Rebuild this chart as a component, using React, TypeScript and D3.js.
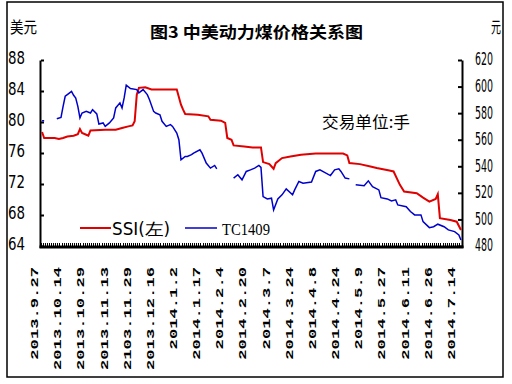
import React from "react";
import * as d3 from "d3";

const xLabels = ["2013.9.27","2013.10.14","2013.10.29","2013.11.13","2103.11.29","2013.12.16","2014.1.2","2014.1.17","2014.2.4","2014.2.20","2014.3.7","2014.3.24","2014.4.8","2014.4.24","2014.5.9","2014.5.27","2014.6.11","2014.6.26","2014.7.14"];
const labelEvery = 11;
const categoryCount = 200;

const leftTicks = [64, 68, 72, 76, 80, 84, 88];
const rightTicks = [480, 500, 520, 540, 560, 580, 600, 620];

const ssiDays = [0,1,6,8,10,12,15,17,18,19,21,22,23,30,35,38,41,43,44,45,46,49,52,64,66,67,68,74,79,80,85,87,88,90,91,96,100,104,105,108,110,111,114,118,123,130,143,145,146,151,156,159,165,167,170,172,178,181,184,187,188,189,194,197,199];
const ssiVals = [78.77,78.0,78.0,77.87,78.0,78.2,78.3,78.5,79.16,78.64,78.42,78.3,78.98,79.07,79.07,79.29,79.5,79.63,80.15,83.6,84.47,84.54,84.25,84.25,82.3,81.66,81.1,81.0,80.8,80.36,80.24,79.94,78.0,77.78,77.04,76.9,76.78,76.78,74.89,74.63,74.03,74.76,75.41,75.62,75.84,76.0,76.0,75.75,74.76,74.63,74.32,74.12,73.8,73.68,71.96,71.09,70.88,70.31,69.8,70.14,70.75,67.65,67.43,67.2,66.13];

const tcDays = [0,1,4,7,9,10,11,12,14,15,16,17,18,19,21,23,24,26,27,29,30,32,34,35,37,38,39,40,42,45,46,48,50,51,53,54,56,57,59,61,62,64,65,66,68,69,71,72,75,76,78,80,82,83,87,91,93,95,97,99,101,103,104,105,107,109,110,112,114,116,119,120,122,124,128,130,132,134,137,139,141,142,144,146,148,149,153,155,157,160,161,164,166,168,169,173,175,177,180,181,184,186,188,191,193,196,198,199];
const tcVals: (number | null)[] = [574.7,574.7,null,576.2,577.2,585.5,593.1,594.3,596.8,593.8,591.8,585.5,576.8,580.5,581.7,580.5,583,579.8,572.2,573,570.4,573,576.8,584.3,588.1,584.3,591.8,601.4,598.9,598.1,595.6,598.1,594.3,590.6,581.7,580.5,579.2,574.2,570.4,571.7,570.4,565.4,560.4,545.3,547.8,547.8,549.1,550.3,552.8,550.3,542.8,539,541,538.5,null,531.5,534,530.2,536.5,537.7,539,541,539.5,517.6,515.8,516.4,507.5,515.8,518.9,523.4,518.9,522.6,528.9,527.7,528.5,536.5,537.7,536,533.4,537.7,538.5,536.5,531.5,530.9,null,526.4,525.7,529.4,525.1,522.6,516.8,515.8,514.3,515.1,511.3,510,506.3,503.8,503.8,498.7,494.2,494.9,496.8,494.9,492.5,491.2,488.7,484.9];

const narrow = "'Liberation Sans Narrow','DejaVu Sans Condensed','Liberation Sans',sans-serif";
const cjk = "'Noto Sans CJK SC','Noto Sans CJK JP',sans-serif";
const mono = "'Liberation Mono','DejaVu Sans Mono',monospace";

export default function App() {
  const W = 512, H = 384;
  const left = 41, right = 462, top = 60.5, bottom = 246.5;
  const x = d3.scaleLinear().domain([-0.5, categoryCount - 0.5]).range([left, right]);
  const yL = d3.scaleLinear().domain([64, 88]).range([bottom, top]);
  const yR = d3.scaleLinear().domain([480, 620]).range([bottom, top]);

  const ssiData = ssiDays.map((d, i) => ({ d, v: ssiVals[i] as number | null }));
  const tcData = tcDays.map((d, i) => ({ d, v: tcVals[i] }));

  const lineL = d3.line<{ d: number; v: number | null }>()
    .defined(p => p.v !== null)
    .x(p => x(p.d))
    .y(p => yL(p.v as number));
  const lineR = d3.line<{ d: number; v: number | null }>()
    .defined(p => p.v !== null)
    .x(p => x(p.d))
    .y(p => yR(p.v as number));

  const combTicks = d3.range(0, categoryCount + 1);

  return (
    <svg width={W} height={H} style={{ position: "absolute", left: 0, top: 0, background: "#fff" }}>
      <rect x={0} y={0} width={W} height={H} fill="#fff" />
      <rect x={7} y={2} width={496} height={375} fill="none" stroke="#000" strokeWidth={1.5} />

      {/* title and units */}
      <text x={150} y={38} fontFamily={cjk} fontWeight="bold" fontSize={16} textLength={213} lengthAdjust="spacingAndGlyphs">图3 中美动力煤价格关系图</text>
      <text x={10} y={33} fontFamily={cjk} fontSize={16} textLength={27} lengthAdjust="spacingAndGlyphs">美元</text>
      <text x={491} y={33} fontFamily={cjk} fontSize={16} textLength={10} lengthAdjust="spacingAndGlyphs">元</text>

      {/* left axis */}
      <line x1={left - 0.5} x2={left - 0.5} y1={top} y2={bottom + 1.5} stroke="#000" strokeWidth={2} />
      {leftTicks.map(t => (
        <g key={"l" + t}>
          <line x1={left} x2={left + 3} y1={yL(t)} y2={yL(t)} stroke="#000" strokeWidth={2} />
          <text x={25} y={yL(t) - 2} dy="0.35em" textAnchor="end" fontFamily={narrow} fontSize={17} textLength={17} lengthAdjust="spacingAndGlyphs">{t}</text>
        </g>
      ))}

      {/* right axis */}
      <line x1={right + 0.5} x2={right + 0.5} y1={top} y2={bottom + 1.5} stroke="#000" strokeWidth={2} />
      {rightTicks.map(t => (
        <g key={"r" + t}>
          <line x1={right - 4} x2={right} y1={yR(t)} y2={yR(t)} stroke="#000" strokeWidth={2} />
          <text x={475} y={yR(t) - 1} dy="0.35em" textAnchor="start" fontFamily={narrow} fontSize={17} textLength={18} lengthAdjust="spacingAndGlyphs">{t}</text>
        </g>
      ))}

      {/* bottom axis */}
      <line x1={left - 1.5} x2={right + 1.5} y1={bottom + 0.5} y2={bottom + 0.5} stroke="#000" strokeWidth={3} />
      {combTicks.map(k => (
        <line key={"c" + k} x1={x(k - 0.5)} x2={x(k - 0.5)} y1={bottom - 4} y2={bottom} stroke="#000" strokeWidth={1} shapeRendering="crispEdges" />
      ))}
      {xLabels.map((lab, i) => (
        <text key={lab}
          transform={`translate(${x(i * labelEvery) - 7},267) rotate(-90)`}
          textAnchor="end" dominantBaseline="central"
          fontFamily={mono} fontWeight="bold" fontSize={11}
          textLength={lab.length * 10.3} lengthAdjust="spacingAndGlyphs">{lab}</text>
      ))}

      {/* series */}
      <path d={lineL(ssiData) || ""} fill="none" stroke="#e00000" strokeWidth={2} strokeLinejoin="miter" />
      <path d={lineR(tcData) || ""} fill="none" stroke="#0000cc" strokeWidth={1.5} strokeLinejoin="miter" />

      {/* legend */}
      <line x1={80} x2={111} y1={228} y2={228} stroke="#e00000" strokeWidth={2} />
      <text x={112} y={235} fontFamily={narrow} fontSize={17} textLength={58} lengthAdjust="spacingAndGlyphs">SSI(左)</text>
      <line x1={185} x2={217} y1={228} y2={228} stroke="#0000cc" strokeWidth={1.5} />
      <text x={222} y={235} fontFamily={"'Liberation Serif',serif"} fontSize={17} textLength={48} lengthAdjust="spacingAndGlyphs">TC1409</text>

      {/* annotation */}
      <text x={322} y={128} fontFamily={cjk} fontSize={16} textLength={88} lengthAdjust="spacingAndGlyphs">交易单位:手</text>
    </svg>
  );
}
